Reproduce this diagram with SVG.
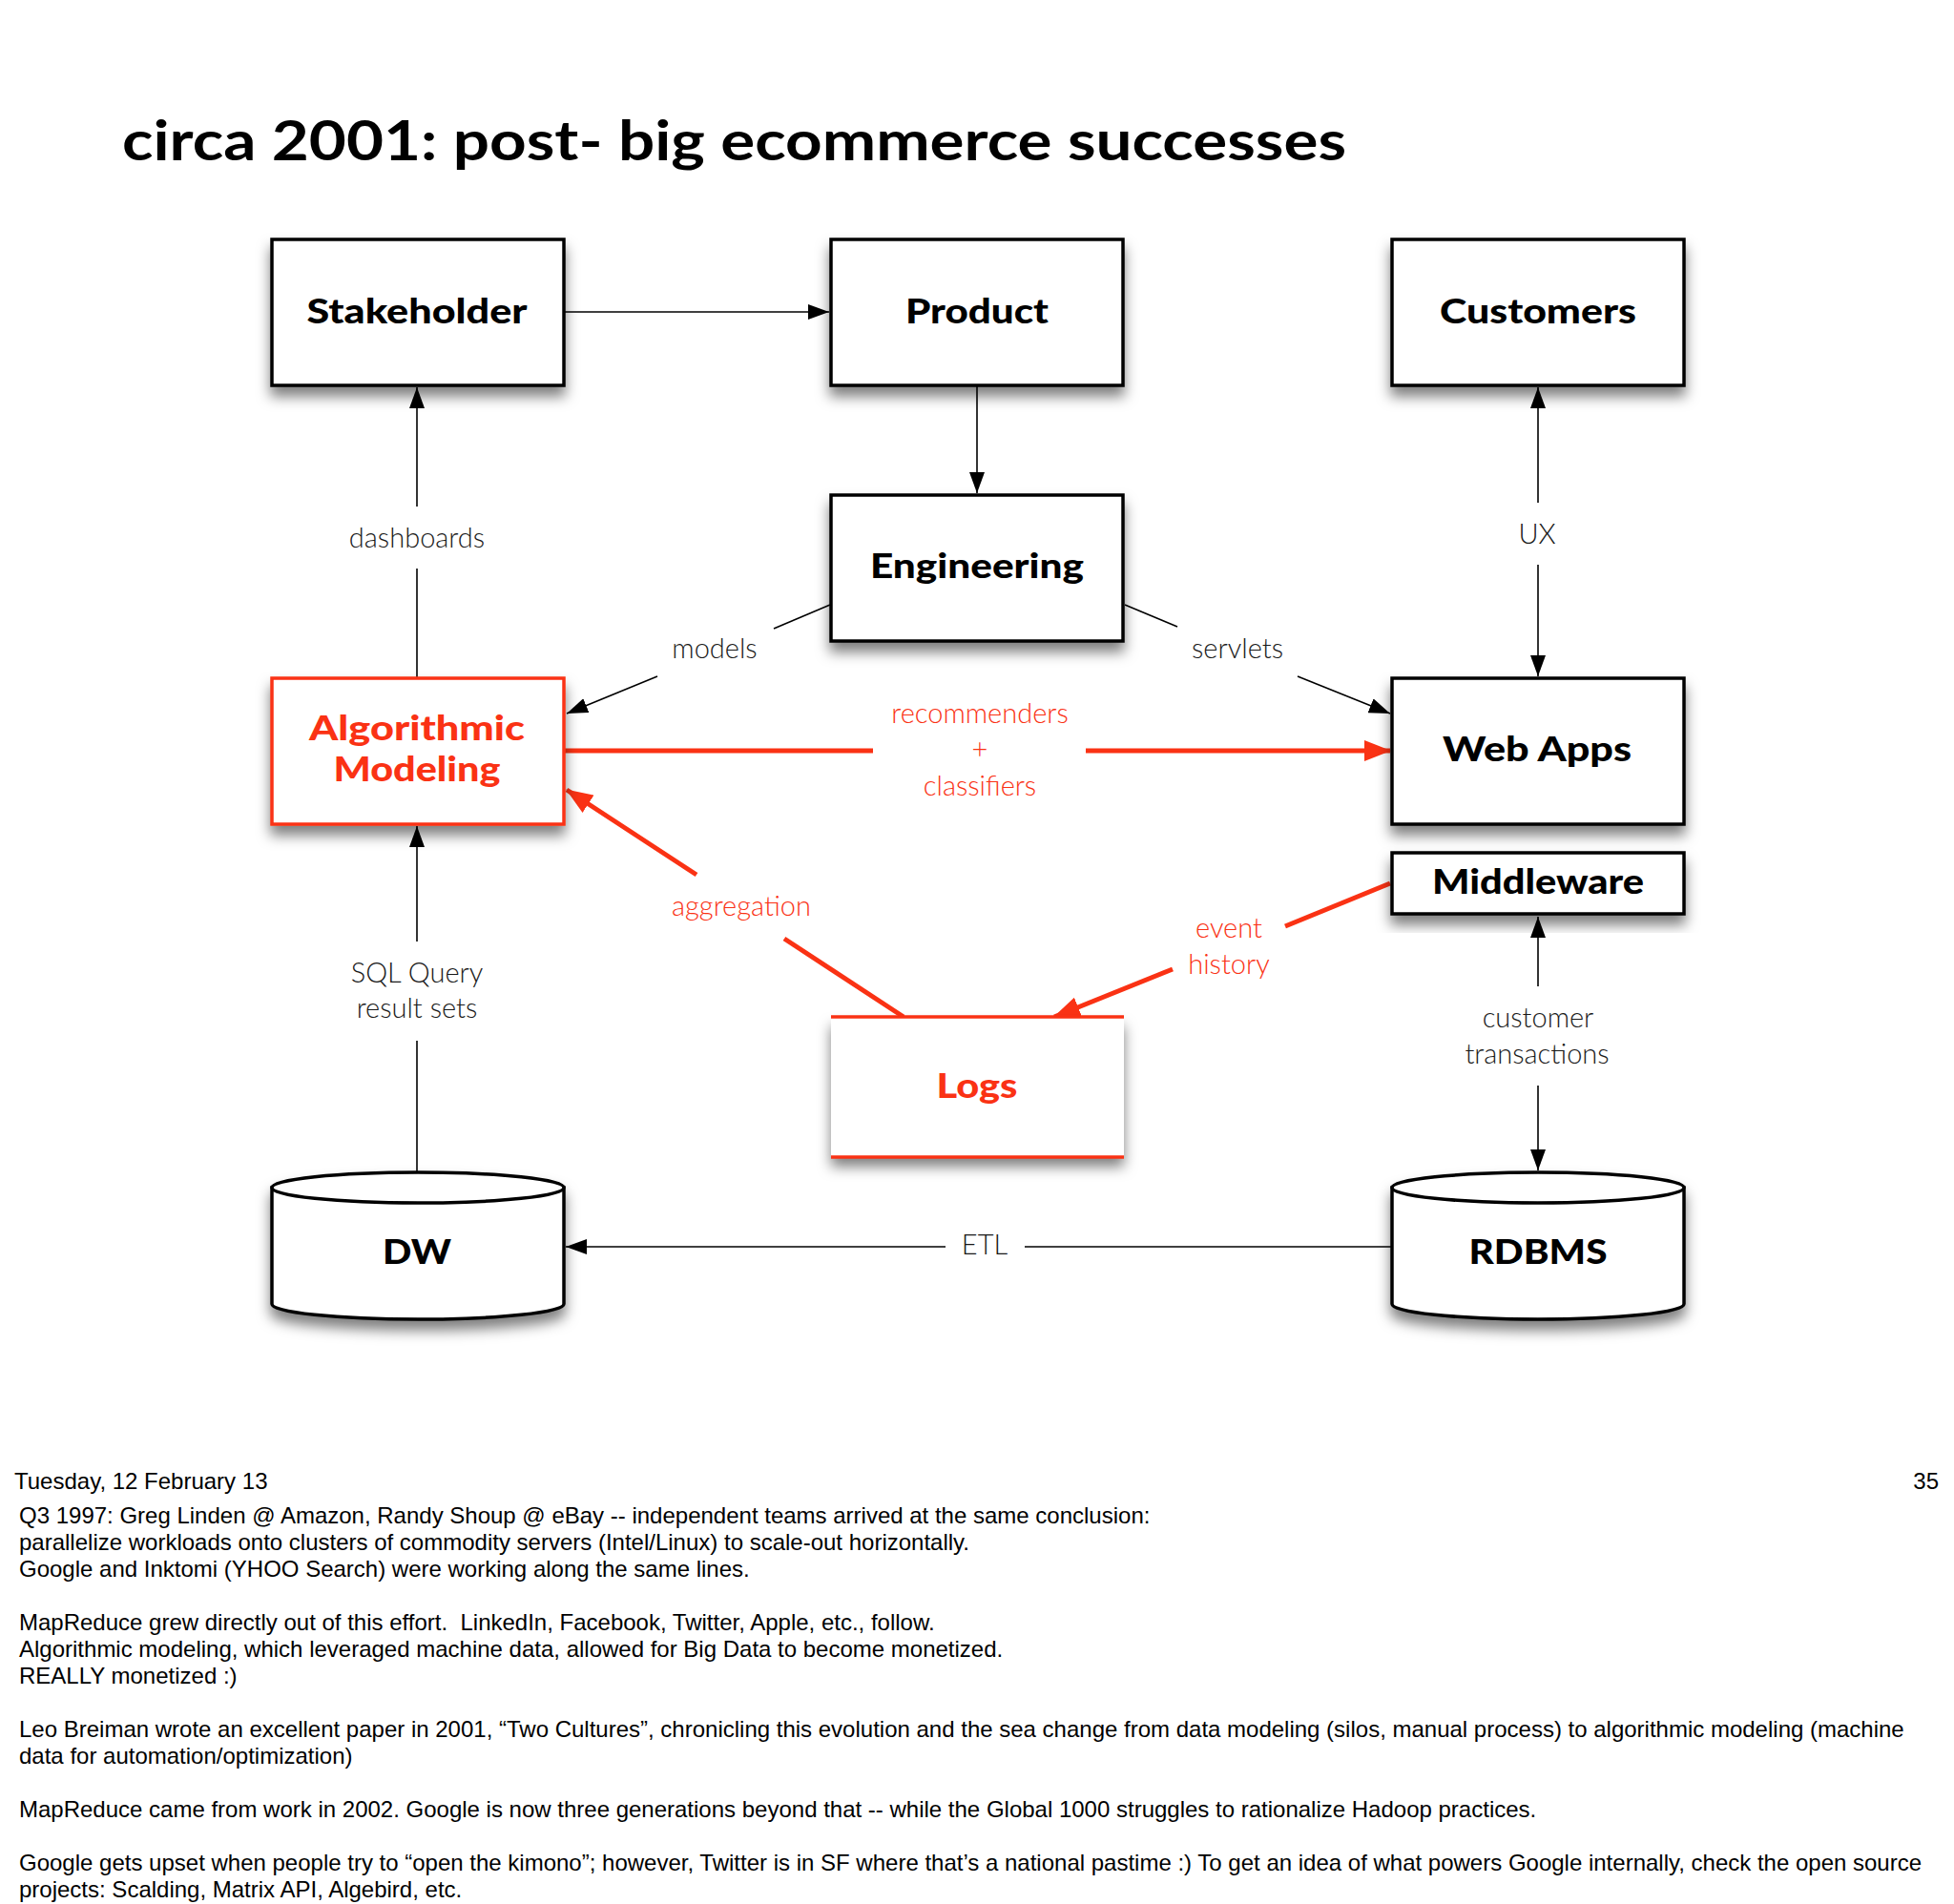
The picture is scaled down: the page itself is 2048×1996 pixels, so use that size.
<svg xmlns="http://www.w3.org/2000/svg" width="2048" height="1996" viewBox="0 0 2048 1996">
<defs>
<style>
.title{font-family:Lato,"Open Sans","Liberation Sans",sans-serif;font-weight:700;font-size:57px;fill:#000}
.nl{font-family:Lato,"Open Sans","Liberation Sans",sans-serif;font-weight:900;font-size:36px;fill:#000;text-anchor:middle}
.red{fill:#fa3214}
.el{font-family:Lato,"Open Sans","Liberation Sans",sans-serif;font-weight:300;font-size:29px;fill:#1a1a1a;text-anchor:middle}
.elr{font-family:Lato,"Open Sans","Liberation Sans",sans-serif;font-weight:300;font-size:29px;fill:#fa3214;text-anchor:middle}
.box{fill:#fff;stroke:#000;stroke-width:3.5}
.boxr{fill:#fff;stroke:#fa3214;stroke-width:3.5}
.c{stroke:#000;stroke-width:1.6;fill:none}
.cr{stroke:#fa3214;stroke-width:5;fill:none}
.ft{font-family:"Liberation Sans",Arial,sans-serif;font-size:24px;fill:#000}
</style>
<filter id="sh" x="-10%" y="-10%" width="125%" height="140%">
<feDropShadow dx="0" dy="10" stdDeviation="7" flood-color="#000" flood-opacity="0.5"/>
</filter>
<marker id="ab" markerUnits="userSpaceOnUse" markerWidth="22" markerHeight="16" refX="22" refY="8" orient="auto">
<path d="M0,0 L22,8 L0,16 z" fill="#000"/>
</marker>
<marker id="ar" markerUnits="userSpaceOnUse" markerWidth="28" markerHeight="22" refX="27" refY="11" orient="auto">
<path d="M0,0 L28,11 L0,22 z" fill="#fa3214"/>
</marker>
</defs>
<rect width="2048" height="1996" fill="#fff"/>
<text class="title" x="128" y="168" textLength="1283" lengthAdjust="spacingAndGlyphs">circa 2001: post- big ecommerce successes</text>

<g id="connectors">
<line class="c" x1="592" y1="327" x2="869" y2="327" marker-end="url(#ab)"/>
<line class="c" x1="1024" y1="405" x2="1024" y2="517" marker-end="url(#ab)"/>
<line class="c" x1="437" y1="711" x2="437" y2="596"/>
<line class="c" x1="437" y1="531" x2="437" y2="406" marker-end="url(#ab)"/>
<line class="c" x1="1612" y1="527" x2="1612" y2="406" marker-end="url(#ab)"/>
<line class="c" x1="1612" y1="592" x2="1612" y2="709" marker-end="url(#ab)"/>
<line class="c" x1="870" y1="634" x2="811" y2="659"/>
<line class="c" x1="689" y1="709" x2="594" y2="748" marker-end="url(#ab)"/>
<line class="c" x1="1179" y1="634" x2="1234" y2="657"/>
<line class="c" x1="1360" y1="709" x2="1457" y2="748" marker-end="url(#ab)"/>
<line class="c" x1="437" y1="1230" x2="437" y2="1091"/>
<line class="c" x1="437" y1="987" x2="437" y2="866" marker-end="url(#ab)"/>
<line class="c" x1="1612" y1="1034" x2="1612" y2="961" marker-end="url(#ab)"/>
<line class="c" x1="1612" y1="1138" x2="1612" y2="1227" marker-end="url(#ab)"/>
<line class="c" x1="1459" y1="1307" x2="1074" y2="1307"/>
<line class="c" x1="991" y1="1307" x2="593" y2="1307" marker-end="url(#ab)"/>
<line class="cr" x1="591" y1="787" x2="915" y2="787"/>
<line class="cr" x1="1138" y1="787" x2="1457" y2="787" marker-end="url(#ar)"/>
<line class="cr" x1="947" y1="1066" x2="822" y2="984"/>
<line class="cr" x1="730" y1="917" x2="594" y2="828" marker-end="url(#ar)"/>
<line class="cr" x1="1457" y1="926" x2="1347" y2="971"/>
<line class="cr" x1="1229" y1="1016" x2="1105" y2="1066" marker-end="url(#ar)"/>
</g>

<g id="edge-labels">
<text class="el" x="437" y="574">dashboards</text>
<text class="el" x="1611" y="570">UX</text>
<text class="el" x="749" y="690">models</text>
<text class="el" x="1297" y="690">servlets</text>
<text class="elr" x="1027" y="758">recommenders</text>
<text class="elr" x="1027" y="796">+</text>
<text class="elr" x="1027" y="834">classifiers</text>
<text class="elr" x="777" y="960">aggregation</text>
<text class="elr" x="1288" y="983">event</text>
<text class="elr" x="1288" y="1021">history</text>
<text class="el" x="437" y="1030">SQL Query</text>
<text class="el" x="437" y="1067">result sets</text>
<text class="el" x="1612" y="1077">customer</text>
<text class="el" x="1611" y="1115">transactions</text>
<text class="el" x="1032" y="1315">ETL</text>
</g>

<g id="stakeholder">
<rect class="box" x="285" y="251" width="306" height="153" filter="url(#sh)"/>
<text class="nl" x="437" y="339" textLength="231" lengthAdjust="spacingAndGlyphs">Stakeholder</text>
</g>
<g id="product">
<rect class="box" x="871" y="251" width="306" height="153" filter="url(#sh)"/>
<text class="nl" x="1024" y="339" textLength="150" lengthAdjust="spacingAndGlyphs">Product</text>
</g>
<g id="customers">
<rect class="box" x="1459" y="251" width="306" height="153" filter="url(#sh)"/>
<text class="nl" x="1612" y="339" textLength="206" lengthAdjust="spacingAndGlyphs">Customers</text>
</g>
<g id="engineering">
<rect class="box" x="871" y="519" width="306" height="153" filter="url(#sh)"/>
<text class="nl" x="1024" y="606" textLength="224" lengthAdjust="spacingAndGlyphs">Engineering</text>
</g>
<g id="algorithmic-modeling">
<rect class="boxr" x="285" y="711" width="306" height="153" filter="url(#sh)"/>
<text class="nl red" x="437" y="776" textLength="226" lengthAdjust="spacingAndGlyphs">Algorithmic</text>
<text class="nl red" x="437" y="819" textLength="175" lengthAdjust="spacingAndGlyphs">Modeling</text>
</g>
<g id="web-apps">
<rect class="box" x="1459" y="711" width="306" height="153" filter="url(#sh)"/>
<text class="nl" x="1611" y="798" textLength="198" lengthAdjust="spacingAndGlyphs">Web Apps</text>
</g>
<g id="middleware">
<rect class="box" x="1459" y="894" width="306" height="64" filter="url(#sh)"/>
<text class="nl" x="1612" y="937" textLength="222" lengthAdjust="spacingAndGlyphs">Middleware</text>
</g>
<g id="logs">
<rect x="871" y="1066" width="307" height="147" fill="#fff" filter="url(#sh)"/>
<line x1="871" y1="1066" x2="1178" y2="1066" stroke="#fa3214" stroke-width="3.5"/>
<line x1="871" y1="1213" x2="1178" y2="1213" stroke="#fa3214" stroke-width="3.5"/>
<text class="nl red" x="1024" y="1151" textLength="85" lengthAdjust="spacingAndGlyphs">Logs</text>
</g>
<g id="dw">
<g filter="url(#sh)">
<path class="box" d="M285,1245 L285,1367 A153,16 0 0 0 591,1367 L591,1245 Z"/>
<ellipse class="box" cx="438" cy="1245" rx="153" ry="16"/>
</g>
<text class="nl" x="437" y="1325" textLength="72" lengthAdjust="spacingAndGlyphs">DW</text>
</g>
<g id="rdbms">
<g filter="url(#sh)">
<path class="box" d="M1459,1245 L1459,1367 A153,16 0 0 0 1765,1367 L1765,1245 Z"/>
<ellipse class="box" cx="1612" cy="1245" rx="153" ry="16"/>
</g>
<text class="nl" x="1612" y="1325" textLength="145" lengthAdjust="spacingAndGlyphs">RDBMS</text>
</g>

<g id="notes">
<text class="ft" x="15" y="1561">Tuesday, 12 February 13</text>
<text class="ft" x="2032" y="1561" text-anchor="end">35</text>
<text class="ft" x="20" y="1597">Q3 1997: Greg Linden @ Amazon, Randy Shoup @ eBay -- independent teams arrived at the same conclusion:</text>
<text class="ft" x="20" y="1625">parallelize workloads onto clusters of commodity servers (Intel/Linux) to scale-out horizontally.</text>
<text class="ft" x="20" y="1653">Google and Inktomi (YHOO Search) were working along the same lines.</text>
<text class="ft" x="20" y="1709" xml:space="preserve">MapReduce grew directly out of this effort.  LinkedIn, Facebook, Twitter, Apple, etc., follow.</text>
<text class="ft" x="20" y="1737">Algorithmic modeling, which leveraged machine data, allowed for Big Data to become monetized.</text>
<text class="ft" x="20" y="1765">REALLY monetized :)</text>
<text class="ft" x="20" y="1821">Leo Breiman wrote an excellent paper in 2001, “Two Cultures”, chronicling this evolution and the sea change from data modeling (silos, manual process) to algorithmic modeling (machine</text>
<text class="ft" x="20" y="1849">data for automation/optimization)</text>
<text class="ft" x="20" y="1905">MapReduce came from work in 2002. Google is now three generations beyond that -- while the Global 1000 struggles to rationalize Hadoop practices.</text>
<text class="ft" x="20" y="1961">Google gets upset when people try to “open the kimono”; however, Twitter is in SF where that’s a national pastime :) To get an idea of what powers Google internally, check the open source</text>
<text class="ft" x="20" y="1989">projects: Scalding, Matrix API, Algebird, etc.</text>
</g>
</svg>
